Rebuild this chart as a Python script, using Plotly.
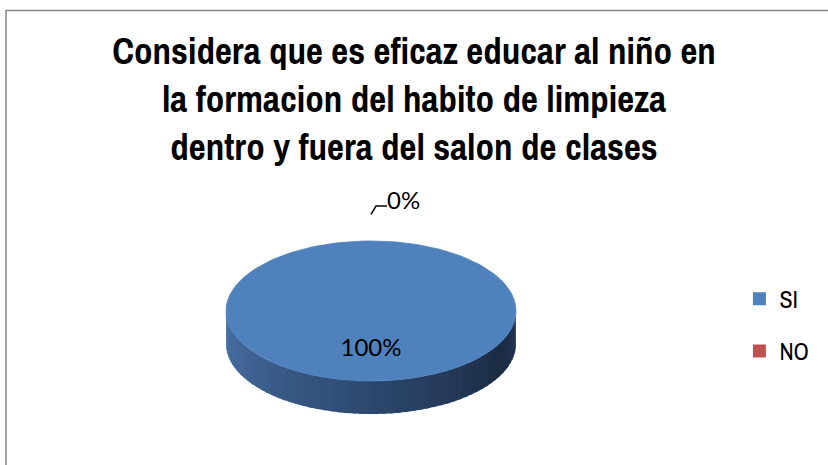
import numpy as np
import plotly.graph_objects as go

# datos de la encuesta
categorias = ["SI", "NO"]
valores = [100, 0]
titulo = ["Considera que es eficaz educar al niño en",
          "la formacion del habito de limpieza",
          "dentro y fuera del salon de clases"]

colores = {"SI": "#4F81BD", "NO": "#C0504D"}

# geometria del pastel 3D (en pixeles)
cx, cy = 371, 311
a, b = 145, 70
prof = 33

W, H = 828, 465
fuente_titulo = "Archivo Narrow, Roboto Condensed, sans-serif"


def punto(theta, r=1.0, dy=0.0):
    # theta en grados, sentido horario desde las 12
    t = np.radians(theta)
    return cx + r * a * np.sin(t), cy - r * b * np.cos(t) + dy


def mezcla(c1, c2, f):
    return "rgb(%d,%d,%d)" % tuple(int(round(c1[i] + (c2[i] - c1[i]) * f)) for i in range(3))


fig = go.Figure()

total = sum(valores)
inicio = 0.0
angulos = []
for cat, v in zip(categorias, valores):
    barrido = 360.0 * v / total
    angulos.append((cat, v, inicio, inicio + barrido))
    inicio += barrido

# lado del cilindro (solo la parte frontal, 90..270 grados)
izq = (74, 114, 168)
centro = (44, 72, 110)
der = (27, 43, 67)
borde = (36, 57, 88)
for cat, v, t0, t1 in angulos:
    lo, hi = max(t0, 90), min(t1, 270)
    if hi <= lo:
        continue
    pasos = np.linspace(lo, hi, 61)
    paso = pasos[1] - pasos[0]
    for i in range(len(pasos) - 1):
        # cada tramo se solapa un poco con el siguiente para evitar rayas
        ts = np.linspace(pasos[i], min(pasos[i + 1] + paso * 0.6, hi), 5)
        xs_top, ys_top = punto(ts)
        xs_bot, ys_bot = punto(ts[::-1], dy=prof)
        xs = np.concatenate([xs_top, xs_bot])
        ys = np.concatenate([ys_top, ys_bot])
        f = (270 - (pasos[i] + pasos[i + 1]) / 2) / 180.0  # 0 izquierda, 1 derecha
        if f < 0.5:
            col = mezcla(izq, centro, f / 0.5)
        elif f < 0.85:
            col = mezcla(centro, der, (f - 0.5) / 0.35)
        else:
            col = mezcla(der, borde, (f - 0.85) / 0.15)
        fig.add_trace(go.Scatter(x=xs, y=ys, fill="toself", fillcolor=col,
                                 line=dict(width=0), mode="lines",
                                 showlegend=False, hoverinfo="skip"))

# cara superior
for cat, v, t0, t1 in angulos:
    if v == 0:
        continue
    ts = np.linspace(t0, t1, 181)
    xs, ys = punto(ts)
    if t1 - t0 < 360:
        xs = np.concatenate([[cx], xs, [cx]])
        ys = np.concatenate([[cy], ys, [cy]])
    fig.add_trace(go.Scatter(x=xs, y=ys, fill="toself", fillcolor=colores[cat],
                             line=dict(width=0.8, color=colores[cat]), mode="lines",
                             legendgroup=cat, showlegend=False, name=cat, hoverinfo="skip"))

# etiquetas de porcentaje
for cat, v, t0, t1 in angulos:
    pct = "%d%%" % round(100.0 * v / total)
    if v / total > 0.05:
        lx, ly = punto((t0 + t1) / 2, r=0.55)
        fig.add_trace(go.Scatter(x=[lx], y=[ly], mode="text", text=[pct],
                                 textfont=dict(family="Lato", size=24, color="#000"),
                                 showlegend=False, hoverinfo="skip"))
    else:
        p0 = punto(t0, r=1.38)
        p1 = punto(t0, r=1.5)
        fig.add_trace(go.Scatter(x=[p0[0], p1[0] + 5, p1[0] + 16], y=[p0[1], p1[1], p1[1]],
                                 mode="lines", line=dict(color="#000", width=1.5),
                                 showlegend=False, hoverinfo="skip"))
        fig.add_trace(go.Scatter(x=[p1[0] + 16], y=[p1[1] - 3], mode="text", text=[pct],
                                 textposition="middle right",
                                 textfont=dict(family="Lato", size=24, color="#000"),
                                 showlegend=False, hoverinfo="skip"))

# leyenda
for cat in categorias:
    fig.add_trace(go.Scatter(x=[None], y=[None], mode="markers", name=cat, legendgroup=cat,
                             marker=dict(symbol="square", size=13, color=colores[cat])))

fig.update_layout(
    width=W, height=H,
    margin=dict(l=0, r=0, t=0, b=0),
    paper_bgcolor="white", plot_bgcolor="white",
    xaxis=dict(range=[0, W], visible=False, fixedrange=True),
    yaxis=dict(range=[H, 0], visible=False, fixedrange=True),
    title=dict(text="<br>".join(titulo), x=0.5, xanchor="center", y=0.863, yanchor="top",
               font=dict(family=fuente_titulo, size=37, color="#000", weight="bold")),
    legend=dict(x=0.893, y=0.405, xanchor="left", yanchor="top",
                font=dict(family=fuente_titulo, size=24, color="#000"),
                tracegroupgap=18, bgcolor="rgba(0,0,0,0)"),
    shapes=[dict(type="rect", xref="paper", yref="paper", x0=6 / W, x1=1.01, y0=-0.01,
                 y1=1 - 10.5 / H, line=dict(color="#868686", width=1.5))],
)

fig.write_html("out.html", config={"displayModeBar": False},
               post_script="document.body.style.margin='0';")
